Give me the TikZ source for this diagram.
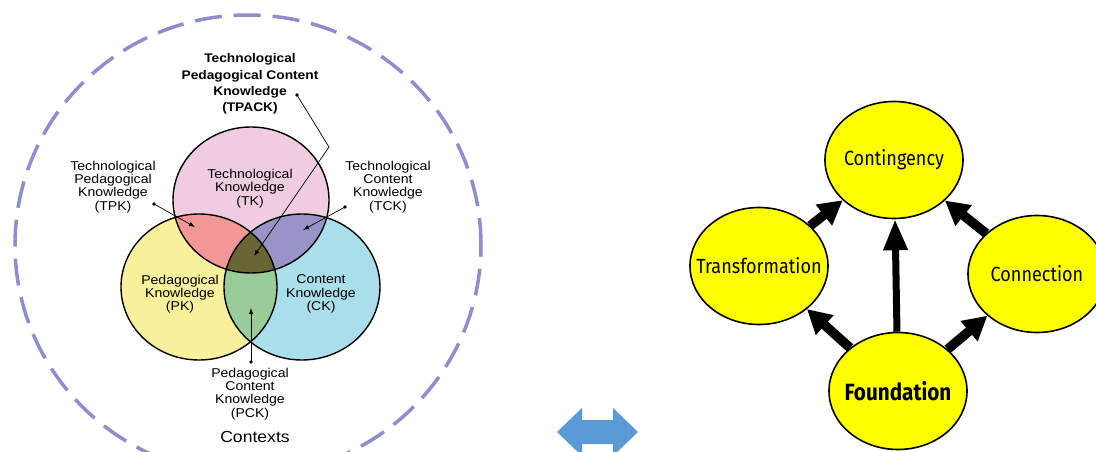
\documentclass[tikz,border=0pt]{standalone}
\usepackage{fontspec}
\setmainfont{Liberation Sans}
\newfontfamily\vennfont[FakeStretch=1.1]{Liberation Sans}
\newfontfamily\rightfont[FakeStretch=0.88]{Fira Sans}
\usetikzlibrary{arrows.meta,shapes.geometric}
\definecolor{dashc}{HTML}{8E8ECC}
\definecolor{tkc}{HTML}{EFCCE0}
\definecolor{pkc}{HTML}{F8F09B}
\definecolor{ckc}{HTML}{A9DEEA}
\definecolor{tpkc}{HTML}{F29696}
\definecolor{tckc}{HTML}{9894C7}
\definecolor{pckc}{HTML}{99CC99}
\definecolor{tpackc}{HTML}{6A6534}
\definecolor{yel}{HTML}{FFFF00}
\definecolor{blu}{HTML}{5B9BD5}
\tikzset{
  tkp/.style={insert path={(251,200) ellipse [x radius=78pt, y radius=73pt]}},
  pkp/.style={insert path={(199,287) ellipse [x radius=78pt, y radius=73pt]}},
  ckp/.style={insert path={(302,287) ellipse [x radius=78pt, y radius=73pt]}},
  vlabel/.style={align=center, inner sep=0pt, font=\vennfont\fontsize{12.8}{13.3}\selectfont},
  lead/.style={line width=0.7pt, -{Latex[length=6pt,width=4.5pt]}},
  bub/.style={ellipse, draw=black, line width=1.6pt, fill=yel, minimum width=138pt, minimum height=117pt, inner sep=0pt},
  fatdiag/.style={line width=9.5pt, -{Triangle[width=25pt,length=24pt]}},
  fatvert/.style={line width=7pt, -{Triangle[width=23pt,length=31pt]}},
}
\newcommand{\bubtext}[2][\mdseries\fontsize{20.5}{24}]{\makebox[0pt]{\rightfont#1\selectfont #2}}
\begin{document}
\begin{tikzpicture}[x=1pt,y=-1pt]
\useasboundingbox (0,0) rectangle (1096,452);
\clip (0,0) rectangle (1096,452);
\fill[white] (0,0) rectangle (1096,452);

% outer dashed context ellipse
\draw[dashc, line width=3.5pt, dash pattern=on 27pt off 12pt] (248,245) ellipse [x radius=233pt, y radius=230pt];

% Venn fills
\fill[tkc, tkp];
\fill[pkc, pkp];
\fill[ckc, ckp];
\begin{scope}\clip[tkp]; \fill[tpkc, pkp];\end{scope}
\begin{scope}\clip[tkp]; \fill[tckc, ckp];\end{scope}
\begin{scope}\clip[pkp]; \fill[pckc, ckp];\end{scope}
\begin{scope}\clip[tkp]; \clip[pkp]; \fill[tpackc, ckp];\end{scope}
\draw[black, line width=1.4pt, tkp];
\draw[black, line width=1.4pt, pkp];
\draw[black, line width=1.4pt, ckp];

% labels
\node[vlabel, font=\vennfont\bfseries\fontsize{12.5}{16.3}\selectfont] (tpack) at (250,84) {Technological\\Pedagogical Content\\Knowledge\\(TPACK)};
\node[vlabel] (tpk) at (113,187) {Technological\\Pedagogical\\Knowledge\\(TPK)};
\node[vlabel] (tck) at (388,187) {Technological\\Content\\Knowledge\\(TCK)};
\node[vlabel] (tk) at (250,188.5) {Technological\\Knowledge\\(TK)};
\node[vlabel] (pk) at (180,294) {Pedagogical\\Knowledge\\(PK)};
\node[vlabel] (ck) at (321,294) {Content\\Knowledge\\(CK)};
\node[vlabel] (pck) at (250,394) {Pedagogical\\Content\\Knowledge\\(PCK)};
\node[inner sep=0pt, font=\vennfont\fontsize{16}{18}\selectfont] (ctx) at (255,437) {Contexts};

% leader lines
\coordinate (tpackdot) at (297,95);
\coordinate (tpackbend) at (329,147);
\coordinate (tpacktip) at (254,256);
\coordinate (tpkdot) at (154,204);
\coordinate (tpktip) at (195,227);
\coordinate (tckdot) at (345,207);
\coordinate (tcktip) at (303,230);
\coordinate (pckdot) at (251,362);
\coordinate (pcktip) at (251,308);
\fill (tpackdot) circle (1.8pt);
\fill (tpkdot) circle (1.8pt);
\fill (tckdot) circle (1.8pt);
\fill (pckdot) circle (1.8pt);
\draw[lead] (tpackdot) -- (tpackbend) -- (tpacktip);
\draw[lead] (tpkdot) -- (tpktip);
\draw[lead] (tckdot) -- (tcktip);
\draw[lead] (pckdot) -- (pcktip);

% blue double arrow
\fill[blu] (557,432) -- (582,408) -- (582,420) -- (613,420) -- (613,408) -- (638,432)
  -- (613,456) -- (613,444) -- (582,444) -- (582,456) -- cycle;

% right diagram
\node[bub] (cont) at (894,160) {\bubtext{Contingency}};
\node[bub] (trans) at (759,266) {\bubtext{Transformation}};
\node[bub] (conn) at (1037,274) {\bubtext{Connection}};
\node[bub] (found) at (898,391) {\bubtext[\bfseries\fontsize{23.5}{26}]{Foundation}};

\draw[fatvert] (found) -- (cont);
\draw[fatdiag] (trans) -- (cont);
\draw[fatdiag] (conn) -- (cont);
\draw[fatdiag] (found) -- (trans);
\draw[fatdiag] (found) -- (conn);
\end{tikzpicture}
\end{document}
